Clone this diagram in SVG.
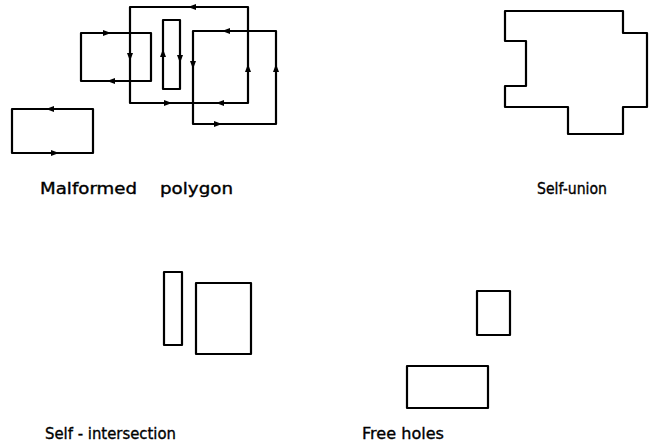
<svg xmlns="http://www.w3.org/2000/svg" xmlns:xlink="http://www.w3.org/1999/xlink" width="653" height="445" viewBox="0 0 653 445">
  <style>
    .shape { fill: none; stroke: #000; stroke-width: 2.2; stroke-linejoin: round; }
    .lbl { font-family: "DejaVu Sans", "Liberation Sans", sans-serif; fill: #000; stroke: #000; stroke-width: 0.35; }
    .top { font-size: 15px; }
    .bot { font-size: 16px; }
  </style>
  <defs>
    <!-- small direction marker, pointing along +x -->
    <path id="ah" d="M4,0 L-4,-3 L-4,3 Z" fill="#000"/>
  </defs>
  <rect width="653" height="445" fill="#fff"/>

  <!-- malformed polygon: five loops with edge directions -->
  <g id="malformed">
    <rect class="shape" x="12" y="109" width="81" height="44"/>
    <rect class="shape" x="81" y="33" width="70" height="48"/>
    <rect class="shape" x="130" y="7" width="118" height="96"/>
    <rect class="shape" x="163" y="20" width="17" height="69"/>
    <rect class="shape" x="193" y="31" width="83" height="93"/>
    <use xlink:href="#ah" transform="translate(50,109) rotate(180)"/>
    <use xlink:href="#ah" transform="translate(55,153)"/>
    <use xlink:href="#ah" transform="translate(107,33)"/>
    <use xlink:href="#ah" transform="translate(111,81) rotate(180)"/>
    <use xlink:href="#ah" transform="translate(192,7) rotate(180)"/>
    <use xlink:href="#ah" transform="translate(130,57) rotate(90)"/>
    <use xlink:href="#ah" transform="translate(168,103)"/>
    <use xlink:href="#ah" transform="translate(220,103) rotate(180)"/>
    <use xlink:href="#ah" transform="translate(248,68) rotate(-90)"/>
    <use xlink:href="#ah" transform="translate(163,53) rotate(-90)"/>
    <use xlink:href="#ah" transform="translate(180,59) rotate(90)"/>
    <use xlink:href="#ah" transform="translate(226,31) rotate(180)"/>
    <use xlink:href="#ah" transform="translate(193,65) rotate(90)"/>
    <use xlink:href="#ah" transform="translate(276,68) rotate(-90)"/>
    <use xlink:href="#ah" transform="translate(218,124)"/>
    <text class="lbl top" x="40" y="194"><tspan textLength="97" lengthAdjust="spacingAndGlyphs">Malformed</tspan><tspan x="160" textLength="73" lengthAdjust="spacingAndGlyphs">polygon</tspan></text>
  </g>

  <!-- self-union outline -->
  <g id="self-union">
    <path class="shape" d="M505,11 H623 V33 H647 V107 H623 V134 H568 V107 H505 V86 H526 V41 H505 Z"/>
    <text class="lbl top" x="537" y="194" textLength="70" lengthAdjust="spacingAndGlyphs">Self-union</text>
  </g>

  <!-- self-intersection -->
  <g id="self-intersection">
    <rect class="shape" x="164" y="272" width="18" height="73"/>
    <rect class="shape" x="196" y="283" width="55" height="71"/>
    <text class="lbl bot" x="45" y="439" textLength="131" lengthAdjust="spacingAndGlyphs">Self - intersection</text>
  </g>

  <!-- free holes -->
  <g id="free-holes">
    <rect class="shape" x="477" y="291" width="33" height="44"/>
    <rect class="shape" x="407" y="366" width="81" height="42"/>
    <text class="lbl bot" x="362" y="439" textLength="82" lengthAdjust="spacingAndGlyphs">Free holes</text>
  </g>
</svg>
